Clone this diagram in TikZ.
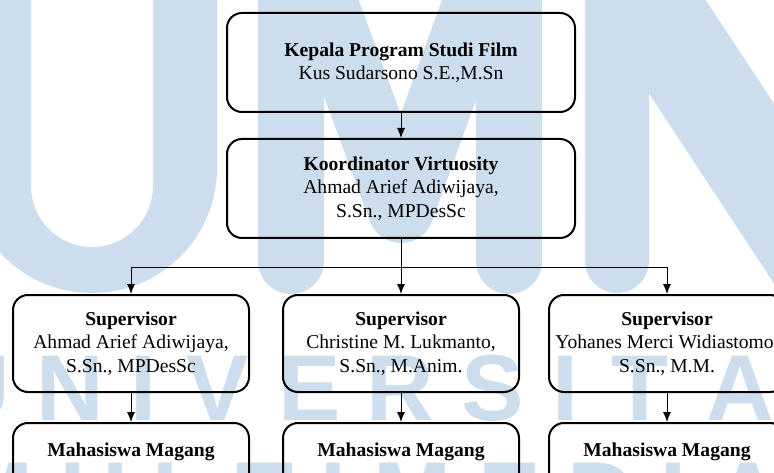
\documentclass[tikz,border=0pt]{standalone}
\usepackage{fontspec}
\setmainfont{Liberation Serif}
\newfontfamily\wmfont{Liberation Sans}
\usetikzlibrary{arrows.meta}
\definecolor{umnblue}{RGB}{204,222,238}

\begin{document}
\begin{tikzpicture}[x=1pt, y=1pt, >={Latex[length=10pt,width=8pt]},
    jabatan/.style={draw, line width=2pt, rounded corners=15pt, align=center,
        inner sep=4pt, font=\fontsize{19.6}{23.5}\selectfont},
    garis/.style={line width=1pt},
    huruf/.style={anchor=base, inner sep=0pt, text=umnblue,
        font=\wmfont\bfseries\fontsize{93.6}{94}\selectfont}]
    \useasboundingbox (0,0) rectangle (774,472);
    \clip (0,0) rectangle (774,472);

    % watermark
    \fill[umnblue] (-33,480) -- (-33,304) arc (180:360:125) -- (217,480) -- (153,480)
        -- (153,286) arc (0:-180:61) -- (31,480) -- cycle;
    \draw[umnblue, line width=66pt, line cap=round, line join=round]
        (291,211) -- (291,560) -- (401,262) -- (509,560) -- (509,211);
    \draw[umnblue, line width=64pt, line cap=round] (617,211) -- (617,490);
    \fill[umnblue] (556,520) -- (674,520) -- (800,329) -- (800,149) -- cycle;
    \foreach \ch/\xx [count=\i] in {U/-24,N/70,I/144,V/218,E/310,R/400,S/493,I/565,T/640,A/740,S/840}
        \node[huruf] (univ\i) at (\xx,52) {\ch};
    \foreach \ch/\xx [count=\i] in {M/-6,U/94,L/181,T/265,I/333,M/412,E/510,D/601,I/673,A/748}
        \node[huruf] (multi\i) at (\xx,-55) {\ch};

    % bagan
    \node[jabatan, minimum width=348pt, minimum height=99pt] (kaprodi) at (401,409.5)
        {\textbf{Kepala Program Studi Film}\\Kus Sudarsono S.E.,M.Sn};
    \node[jabatan, minimum width=348pt, minimum height=99pt] (koord) at (401,283.5)
        {\textbf{Koordinator Virtuosity}\\Ahmad Arief Adiwijaya,\\S.Sn., MPDesSc};
    \node[jabatan, minimum width=236pt, minimum height=97pt] (sup1) at (131,128.5)
        {\textbf{Supervisor}\\Ahmad Arief Adiwijaya,\\S.Sn., MPDesSc};
    \node[jabatan, minimum width=236pt, minimum height=97pt] (sup2) at (401,128.5)
        {\textbf{Supervisor}\\Christine M. Lukmanto,\\S.Sn., M.Anim.};
    \node[jabatan, minimum width=236pt, minimum height=97pt] (sup3) at (667,128.5)
        {\textbf{Supervisor}\\Yohanes Merci Widiastomo,\\S.Sn., M.M.};
    \foreach \xx [count=\i] in {131,401,667}
        \node[jabatan, minimum width=236pt, text height=14pt, text depth=70pt,
            inner ysep=19pt, anchor=north] (mhs\i) at (\xx,50) {\textbf{Mahasiswa Magang}};

    \coordinate (cabang) at (401,205);
    \draw[garis,->] (kaprodi) -- (koord);
    \draw[garis] (koord) -- (cabang);
    \draw[garis,->] (cabang) -| (sup1);
    \draw[garis,->] (cabang) -- (sup2);
    \draw[garis,->] (cabang) -| (sup3);
    \foreach \i in {1,2,3}
        \draw[garis,->] (sup\i) -- (mhs\i);
\end{tikzpicture}
\end{document}
